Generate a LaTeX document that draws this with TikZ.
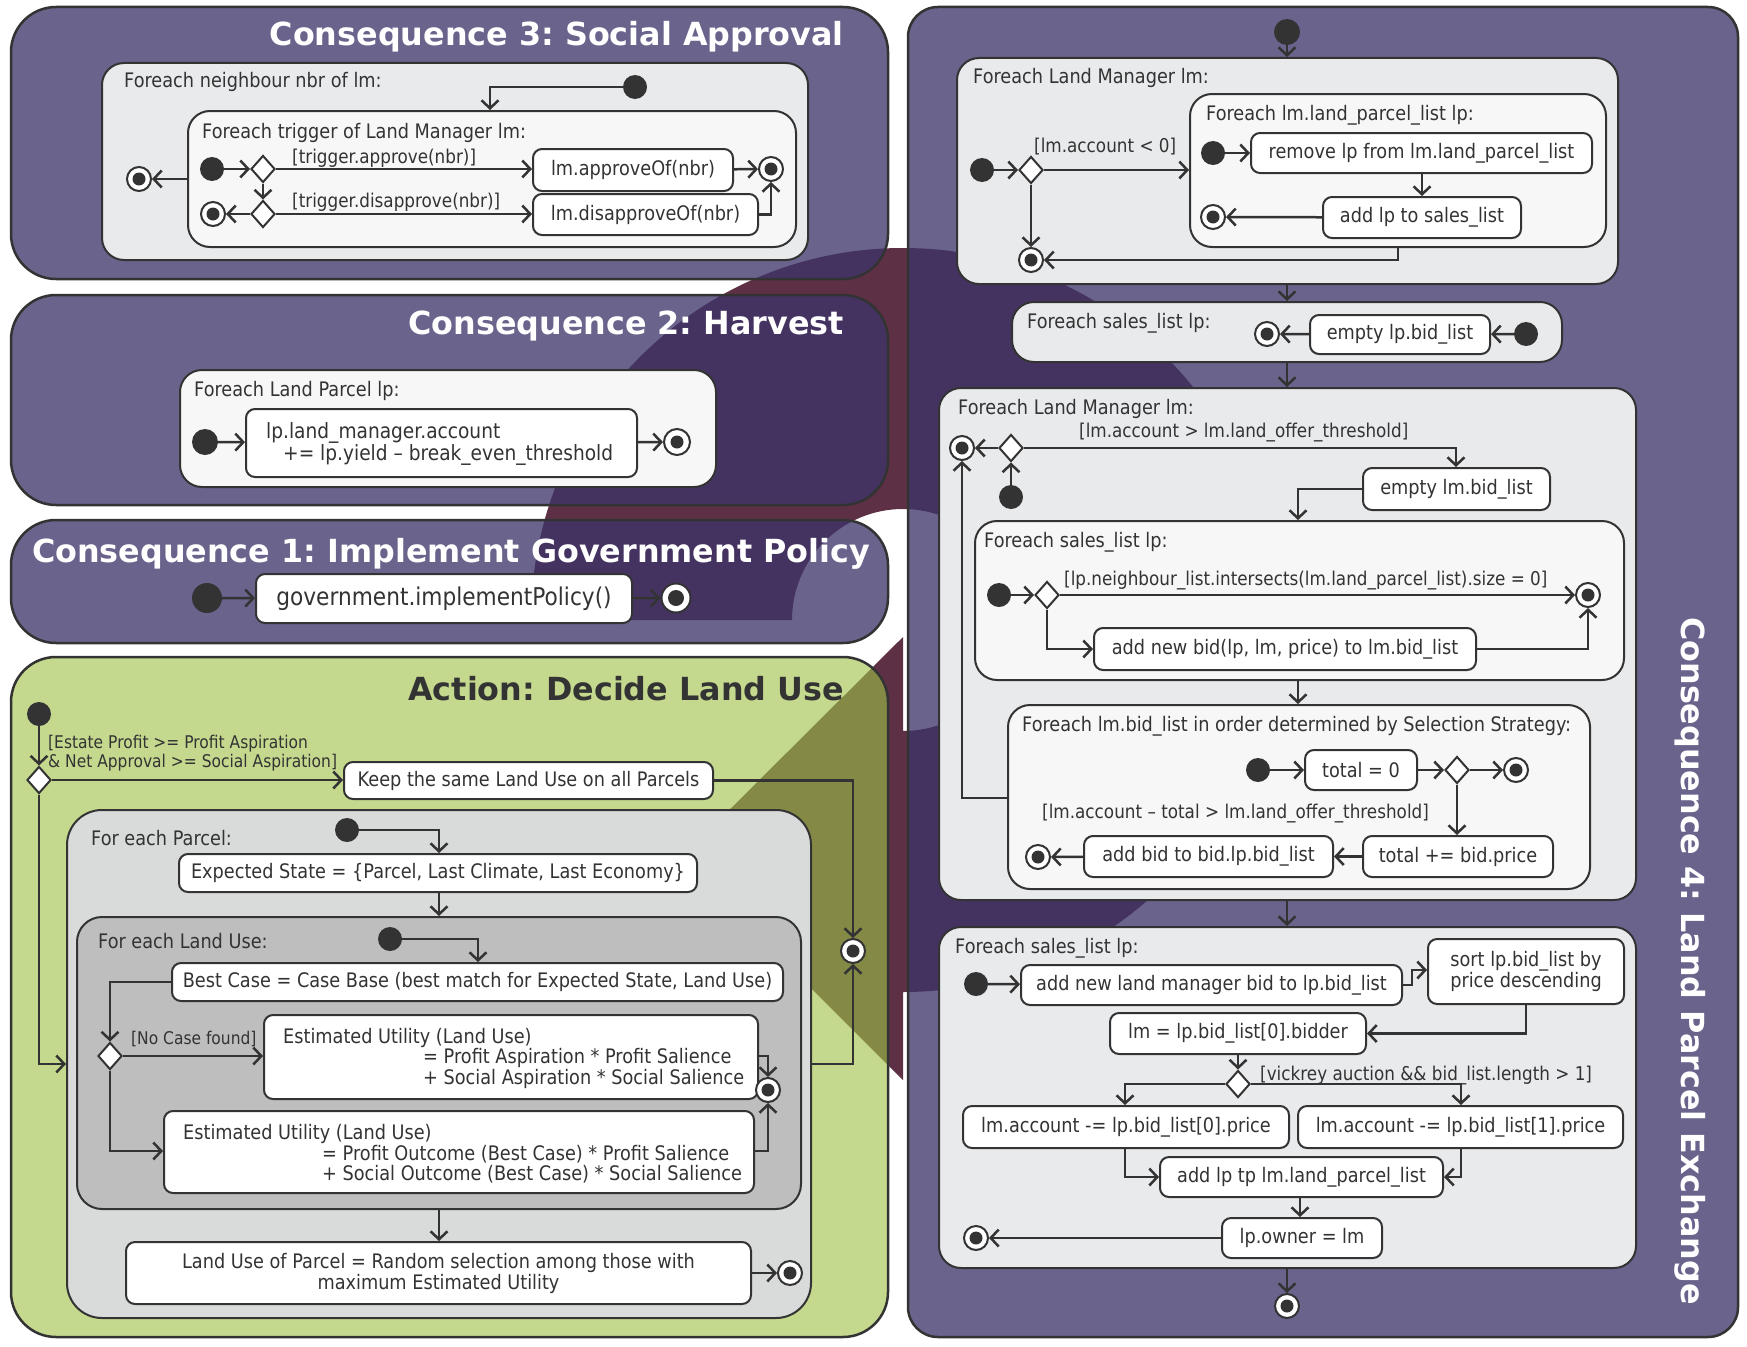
\documentclass[tikz,border=0pt]{standalone}
\usepackage{fontspec}
\setmainfont{DejaVu Sans}[FakeStretch=0.885]
\newfontfamily\ttlfont{DejaVu Sans}
\usetikzlibrary{arrows.meta,shapes.geometric,fit}
\definecolor{ink}{HTML}{333333}
\definecolor{ringc}{HTML}{5D3045}
\definecolor{purpbase}{RGB}{61,52,105}
\definecolor{greenbase}{RGB}{160,194,71}
\definecolor{feA}{HTML}{E9EAEC}
\definecolor{feB}{HTML}{F7F7F7}
\definecolor{grayA}{HTML}{D9DBDB}
\definecolor{grayB}{HTML}{BEBEBE}
\newcommand\bodyf{\fontsize{20}{21}\selectfont}
\newcommand\gsmall{\fontsize{17.5}{18.5}\selectfont}
\newcommand\gmid{\fontsize{19}{20}\selectfont}
\newcommand\titlef{\ttlfont\bfseries\fontsize{31.8}{33}\selectfont}
\newcommand\abox[4]{\node[act, fit={#2#3}] (#1) {}; \node[atext] (#1t) at (#1.center) {#4};}
\begin{document}
\frenchspacing
\begin{tikzpicture}[x=1pt,y=-1pt,
  panel/.style={draw=ink, line width=2.5pt, rounded corners=45pt, fill=purpbase, fill opacity=0.765, inner sep=0pt},
  gpanel/.style={panel, fill=greenbase, fill opacity=0.61},
  region/.style={draw=ink, line width=2pt, rounded corners=22pt, fill=feA, inner sep=0pt},
  act/.style={draw=ink, line width=2pt, rounded corners=9pt, fill=white, inner sep=0pt},
  atext/.style={text=ink, font=\bodyf, inner sep=0pt, align=center},
  init/.style={circle, fill=ink, minimum size=24pt, inner sep=0pt},
  fin/.style={circle, draw=ink, line width=2pt, fill=white, minimum size=24pt, inner sep=0pt,
     path picture={\fill[ink] (path picture bounding box.center) circle[radius=6.5pt];}},
  bigfin/.style={fin, minimum size=29pt, path picture={\fill[ink] (path picture bounding box.center) circle[radius=8pt];}},
  dec/.style={diamond, draw=ink, line width=2pt, fill=white, minimum width=24pt, minimum height=27pt, inner sep=0pt},
  flow/.style={draw=ink, line width=2.5pt, -{Straight Barb[length=8pt,width=17pt]}},
  lbl/.style={text=ink, font=\bodyf, inner sep=0pt, anchor=base west},
  gl/.style={text=ink, font=\gmid, inner sep=0pt, anchor=base west},
  gs/.style={text=ink, font=\gsmall, inner sep=0pt, anchor=base west},
  title/.style={text=white, font=\titlef, inner sep=0pt}]
\useasboundingbox (0,0) rectangle (1747,1346);
\fill[white] (0,0) rectangle (1747,1346);

% background circular arrow
\fill[ringc] (531,620) arc[start angle=-180, end angle=90, radius=372]
   -- (903,1080) -- (681,858) -- (903,637) -- (903,731)
   arc[start angle=90, end angle=-180, radius=111] -- cycle;

% panels
\node[panel, fit={(11,7)(888,279)}] (c3) {};
\node[panel, fit={(11,295)(888,505)}] (c2) {};
\node[panel, fit={(11,520)(888,643)}] (c1) {};
\node[gpanel, fit={(11,657)(888,1337)}] (ac) {};
\node[panel, rounded corners=30pt, fit={(908,7)(1738,1337)}] (c4) {};

% ---------- Consequence 3
\node[title, anchor=east] (t3) at (844,37) {Consequence 3: Social Approval};
\node[region, fit={(102,63)(808,260)}] (r3o) {};
\node[lbl] (l3o) at (124,88) {Foreach neighbour nbr of lm:};
\node[init] (i3o) at (635,87) {};
\node[region, fill=feB, fit={(188,111)(796,247)}] (r3i) {};
\coordinate (k3) at (490,0);
\draw[flow] (i3o) -| (r3i.north -| k3);
\node[lbl] (l3i) at (202,138) {Foreach trigger of Land Manager lm:};
\node[init] (i3i) at (212,169) {};
\node[dec] (d3a) at (263,169) {};
\node[dec] (d3b) at (263,214) {};
\node[fin] (f3b) at (213,214) {};
\abox{a3a}{(533,149)}{(733,191)}{lm.approveOf(nbr)}
\abox{a3b}{(533,194)}{(758,235)}{lm.disapproveOf(nbr)}
\node[fin] (f3a) at (771,169) {};
\node[fin] (f3o) at (139,179) {};
\node[gl] (g3a) at (292,163) {[trigger.approve(nbr)]};
\node[gl] (g3b) at (292,207) {[trigger.disapprove(nbr)]};
\draw[flow] (i3i) -- (d3a);
\draw[flow] (d3a) -- (d3b);
\draw[flow] (d3b) -- (f3b);
\draw[flow] (d3a) -- (a3a.west |- d3a);
\draw[flow] (d3b) -- (a3b.west |- d3b);
\draw[flow] (a3a) -- (f3a);
\draw[flow] (a3b.east) -| (f3a);
\draw[flow] (r3i.west |- f3o) -- (f3o);

% ---------- Consequence 2
\node[title, anchor=east] (t2) at (844,326) {Consequence 2: Harvest};
\node[region, fill=feB, fit={(180,370)(716,487)}] (r2) {};
\node[lbl] (l2) at (194,396) {Foreach Land Parcel lp:};
\node[init, minimum size=26pt] (i2) at (205,442) {};
\node[act, fit={(246,409)(637,477)}] (a2) {};
\node[lbl, font=\fontsize{21}{22}\selectfont] (a2t1) at (266,438) {lp.land\_manager.account};
\node[lbl, font=\fontsize{21}{22}\selectfont] (a2t2) at (283,460) {+= lp.yield – break\_even\_threshold};
\node[fin, minimum size=26pt] (f2) at (677,442) {};
\draw[flow] (i2) -- (a2);
\draw[flow] (a2) -- (f2);

% ---------- Consequence 1
\node[title] (t1) at (451,554) {Consequence 1: Implement Government Policy};
\node[init, minimum size=30pt] (i1) at (207,598) {};
\node[act, fit={(256,574)(632,623)}] (a1) {};
\node[atext, font=\fontsize{24.5}{26}\selectfont] (a1t) at (a1.center) {government.implementPolicy()};
\node[bigfin] (f1) at (676,598) {};
\draw[flow] (i1) -- (a1);
\draw[flow] (a1) -- (f1);

% ---------- Action
\node[title, text=ink, anchor=east] (ta) at (844,689) {Action: Decide Land Use};
\node[init] (ia) at (39,714) {};
\node[dec] (da) at (39,780) {};
\node[gs] (ga1) at (48,748) {[Estate Profit >= Profit Aspiration};
\node[gs] (ga2) at (48,767) {\& Net Approval >= Social Aspiration]};
\abox{ka}{(344,762)}{(713,799)}{Keep the same Land Use on all Parcels}
\node[fin] (fa) at (853,951) {};
\node[region, fill=grayA, rounded corners=35pt, fit={(67,810)(811,1318)}] (pbox) {};
\coordinate (ka2) at (0,1064);
\draw[flow] (ia) -- (da);
\draw[flow] (da) -- (ka.west |- da);
\draw[flow] (ka) -| (fa);
\draw[flow] (da) |- (pbox.west |- ka2);
\draw[flow] (pbox.east |- ka2) -| (fa);
\node[lbl] (lp) at (91,845) {For each Parcel:};
\node[init] (ip) at (347,830) {};
\abox{es}{(179,854)}{(697,892)}{Expected State = \{Parcel, Last Climate, Last Economy\}}
\coordinate (kp) at (439,0);
\draw[flow] (ip) -| (es.north -| kp);
\node[region, fill=grayB, rounded corners=25pt, fit={(77,917)(801,1209)}] (lbox) {};
\draw[flow] (es.south -| kp) -- (lbox.north -| kp);
\node[lbl] (ll) at (98,948) {For each Land Use:};
\node[init] (il) at (390,939) {};
\abox{bc}{(172,963)}{(783,1001)}{Best Case = Case Base (best match for Expected State, Land Use)}
\coordinate (kl) at (478,0);
\draw[flow] (il) -| (bc.north -| kl);
\node[dec] (dl) at (110,1056) {};
\draw[flow] (bc.west) -| (dl);
\node[act, fit={(264,1015)(758,1099)}] (eu1) {};
\node[lbl] (eu1a) at (283,1043) {Estimated Utility (Land Use)};
\node[lbl] (eu1b) at (423,1063) {= Profit Aspiration * Profit Salience};
\node[lbl] (eu1c) at (423,1084) {+ Social Aspiration * Social Salience};
\node[act, fit={(164,1111)(754,1193)}] (eu2) {};
\node[lbl] (eu2a) at (183,1139) {Estimated Utility (Land Use)};
\node[lbl] (eu2b) at (322,1160) {= Profit Outcome (Best Case) * Profit Salience};
\node[lbl] (eu2c) at (322,1180) {+ Social Outcome (Best Case) * Social Salience};
\node[gs] (gnc) at (131,1044) {[No Case found]};
\coordinate (ke) at (0,1151);
\draw[flow] (dl) -- (eu1.west |- dl);
\draw[flow] (dl) |- (eu2.west |- ke);
\node[fin] (fl) at (768,1090) {};
\draw[flow] (eu1.east |- dl) -| (fl);
\draw[flow] (eu2.east |- ke) -| (fl);
\abox{lu}{(126,1242)}{(751,1304)}{Land Use of Parcel = Random selection among those with\\maximum Estimated Utility}
\draw[flow] (lbox.south -| kp) -- (lu.north -| kp);
\node[fin] (fp) at (790,1273) {};
\draw[flow] (lu) -- (fp);

% ---------- Consequence 4
\node[title, rotate=-90] (t4) at (1690,961) {Consequence 4: Land Parcel Exchange};
\node[init, minimum size=26pt] (i4) at (1287,32) {};
\node[region, fit={(957,58)(1618,284)}] (ra) {};
\draw[flow] (i4) -- (ra.north -| i4);
\node[lbl] (la) at (973,83) {Foreach Land Manager lm:};
\node[init] (ia4) at (982,170) {};
\node[dec] (da4) at (1031,170) {};
\draw[flow] (ia4) -- (da4);
\node[region, fill=feB, fit={(1190,94)(1606,247)}] (rb) {};
\draw[flow] (da4) -- (rb.west |- da4);
\node[gl] (ga4) at (1034,152) {[lm.account < 0]};
\node[lbl] (lb) at (1206,120) {Foreach lm.land\_parcel\_list lp:};
\node[init] (ib4) at (1213,153) {};
\abox{rm}{(1251,133)}{(1592,173)}{remove lp from lm.land\_parcel\_list}
\abox{as}{(1323,197)}{(1521,238)}{add lp to sales\_list}
\node[fin] (fb4) at (1213,217) {};
\draw[flow] (ib4) -- (rm);
\coordinate (kr) at (1422,0);
\draw[flow] (rm.south -| kr) -- (as.north -| kr);
\draw[flow] (as) -- (fb4);
\node[fin] (fa4) at (1031,260) {};
\draw[flow] (da4) -- (fa4);
\coordinate (kb) at (1398,0);
\draw[flow] (rb.south -| kb) |- (fa4);

\node[region, fit={(1012,302)(1562,362)}] (rc) {};
\coordinate (kc) at (1287,0);
\draw[flow] (ra.south -| kc) -- (rc.north -| kc);
\node[lbl] (lc) at (1027,328) {Foreach sales\_list lp:};
\node[fin] (fc) at (1267,334) {};
\abox{eb}{(1310,315)}{(1490,354)}{empty lp.bid\_list}
\node[init] (ic) at (1526,334) {};
\draw[flow] (ic) -- (eb);
\draw[flow] (eb) -- (fc);

\node[region, fit={(939,388)(1636,900)}] (rd) {};
\draw[flow] (rc.south -| kc) -- (rd.north -| kc);
\node[lbl] (ld) at (958,414) {Foreach Land Manager lm:};
\node[fin] (fd) at (962,448) {};
\node[dec] (dd) at (1011,448) {};
\node[init] (id) at (1011,497) {};
\draw[flow] (id) -- (dd);
\draw[flow] (dd) -- (fd);
\node[gl] (gd) at (1079,437) {[lm.account > lm.land\_offer\_threshold]};
\abox{el}{(1363,468)}{(1550,510)}{empty lm.bid\_list}
\coordinate (kd) at (1456,0);
\draw[flow] (dd) -| (el.north -| kd);
\node[region, fill=feB, fit={(975,521)(1624,680)}] (re) {};
\coordinate (ke4) at (1298,0);
\draw[flow] (el.west) -| (re.north -| ke4);
\node[lbl] (le) at (984,547) {Foreach sales\_list lp:};
\node[init] (ie) at (999,595) {};
\node[dec] (de) at (1047,595) {};
\node[fin] (fe) at (1588,595) {};
\draw[flow] (ie) -- (de);
\draw[flow] (de) -- (fe);
\node[gl] (ge) at (1064,585) {[lp.neighbour\_list.intersects(lm.land\_parcel\_list).size = 0]};
\abox{nb}{(1094,628)}{(1476,670)}{add new bid(lp, lm, price) to lm.bid\_list}
\draw[flow] (de) |- (nb);
\draw[flow] (nb) -| (fe);
\node[region, fill=feB, fit={(1008,705)(1590,889)}] (rf) {};
\draw[flow] (re.south -| ke4) -- (rf.north -| ke4);
\node[lbl] (lf) at (1022,731) {Foreach lm.bid\_list in order determined by Selection Strategy:};
\node[init] (if) at (1258,770) {};
\abox{t0}{(1305,750)}{(1417,790)}{total = 0}
\node[dec] (df) at (1457,770) {};
\node[fin] (ff) at (1516,770) {};
\draw[flow] (if) -- (t0);
\draw[flow] (t0) -- (df);
\draw[flow] (df) -- (ff);
\abox{tp}{(1363,836)}{(1553,877)}{total += bid.price}
\draw[flow] (df) -- (tp.north -| df);
\node[gl] (gf) at (1042,818) {[lm.account – total > lm.land\_offer\_threshold]};
\abox{ab}{(1084,836)}{(1333,877)}{add bid to bid.lp.bid\_list}
\node[fin] (ff2) at (1038,857) {};
\draw[flow] (tp) -- (ab);
\draw[flow] (ab) -- (ff2);
\coordinate (kf) at (0,798);
\draw[flow] (rf.west |- kf) -| (fd);

\node[region, fit={(939,927)(1636,1268)}] (rg) {};
\draw[flow] (rd.south -| kc) -- (rg.north -| kc);
\node[lbl] (lg) at (955,953) {Foreach sales\_list lp:};
\node[init] (ig) at (976,984) {};
\abox{nl}{(1021,965)}{(1402,1005)}{add new land manager bid to lp.bid\_list}
\abox{so}{(1428,939)}{(1624,1004)}{sort lp.bid\_list by\\price descending}
\draw[flow] (ig) -- (nl);
\coordinate (kg1) at (1412,0);
\coordinate (kg2) at (0,970);
\draw[flow] (nl.east) -- (nl.east -| kg1) |- (so.west |- kg2);
\abox{bd}{(1110,1013)}{(1366,1054)}{lm = lp.bid\_list[0].bidder}
\draw[flow] (so.south) |- (bd.east);
\node[dec] (dg) at (1238,1084) {};
\draw[flow] (bd.south -| dg) -- (dg);
\node[gl] (gg) at (1260,1080) {[vickrey auction \&\& bid\_list.length > 1]};
\abox{p0}{(963,1106)}{(1289,1148)}{lm.account -= lp.bid\_list[0].price}
\abox{p1}{(1298,1106)}{(1623,1148)}{lm.account -= lp.bid\_list[1].price}
\coordinate (kL) at (1125,0);
\coordinate (kR) at (1461,0);
\draw[flow] (dg) -| (p0.north -| kL);
\draw[flow] (dg) -| (p1.north -| kR);
\abox{al}{(1160,1157)}{(1443,1197)}{add lp tp lm.land\_parcel\_list}
\draw[flow] (p0.south -| kL) |- (al.west);
\draw[flow] (p1.south -| kR) |- (al.east);
\abox{ow}{(1222,1218)}{(1382,1258)}{lp.owner = lm}
\coordinate (kA) at (1300,0);
\draw[flow] (al.south -| kA) -- (ow.north -| kA);
\node[fin] (fg) at (976,1238) {};
\draw[flow] (ow) -- (fg);
\node[fin] (f4) at (1287,1306) {};
\draw[flow] (rg.south -| kc) -- (f4);
\end{tikzpicture}
\end{document}
